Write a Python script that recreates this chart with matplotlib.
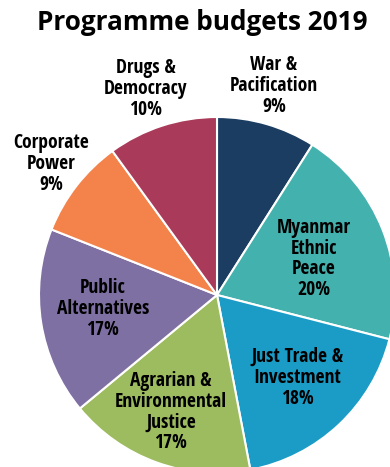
import matplotlib.pyplot as plt
from matplotlib import font_manager

labels = ['War &\nPacification', 'Myanmar\nEthnic\nPeace', 'Just Trade &\nInvestment',
          'Agrarian &\nEnvironmental\nJustice', 'Public\nAlternatives', 'Corporate\nPower',
          'Drugs &\nDemocracy']
shares = [9, 20, 18, 17, 17, 9, 10]
colors = ['#1b3d62', '#43b1ad', '#1a9cc6', '#9dbb5f', '#7f70a3', '#f4824b', '#aa3a5a']

# where each label sits (figure pixels, from top-left)
label_pos = [(274, 86), (314, 259), (297, 378), (171, 412), (103, 309), (51, 164), (146, 89)]

# pick a condensed bold face for the slice labels
names = set(f.name for f in font_manager.fontManager.ttflist)
narrow = 'DejaVu Sans'
for cand in ['Open Sans Condensed', 'Roboto Condensed', 'Fira Sans Condensed',
             'Barlow Condensed', 'Asap Condensed']:
    if cand in names:
        narrow = cand
        break

W, H = 390, 467
fig = plt.figure(figsize=(W / 100, H / 100), dpi=100)
ax = fig.add_axes([0, 0, 1, 1])

ax.pie(shares, colors=colors, startangle=90, counterclock=False,
       center=(217, H - 295), radius=178,
       wedgeprops=dict(edgecolor='white', linewidth=1.5))

for lab, val, (x, y) in zip(labels, shares, label_pos):
    ax.text(x, H - y, f'{lab}\n{val}%', ha='center', va='center',
            fontsize=14, fontweight='bold', family=narrow, linespacing=1.05)

ax.set_xlim(0, W)
ax.set_ylim(0, H)
ax.set_aspect('equal')
ax.axis('off')

fig.text(202.5 / W, 1 - 22 / H, 'Programme budgets 2019', ha='center', va='center',
         fontsize=18.8, fontweight='bold', family='Open Sans')

fig.savefig('out.png', dpi=100)
